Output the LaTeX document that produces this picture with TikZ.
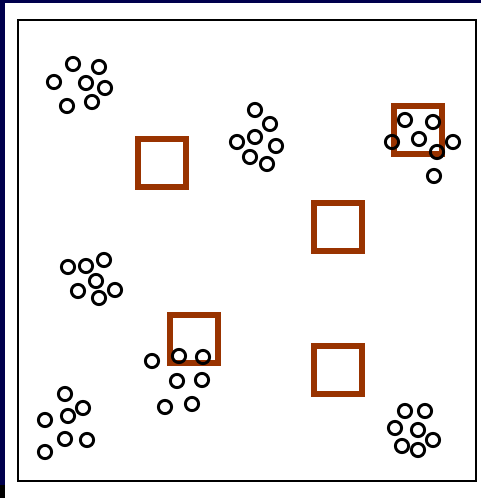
\documentclass[tikz,border=0pt]{standalone}
\usepackage{tikz}
\usepackage{xcolor}
\definecolor{sceneNavy}{HTML}{00004D}
\definecolor{sceneRust}{HTML}{993300}

\tikzset{
  trap/.style={rectangle, draw=sceneRust, line width=5.5pt, minimum size=48pt, inner sep=0pt},
  ring/.style={draw=black, line width=2.9pt},
}

\begin{document}
\begin{tikzpicture}[x=1pt, y=-1pt]
  \useasboundingbox (0,0) rectangle (481,498);
  \fill[sceneNavy] (0,0) rectangle (481,498);
  \fill[white] (5,3) rectangle (481,498);
  \fill[black] (0,485) rectangle (5,498);
  \draw[black, line width=2.8pt] (18,20) rectangle (476,481);
  % traps
  \node[trap] (T1) at (162,163) {};
  \node[trap] (T2) at (338,227) {};
  \node[trap] (T3) at (418,130) {};
  \node[trap] (T4) at (194,339) {};
  \node[trap] (T5) at (338,370) {};
  % particle clusters
  \draw[ring] (73,64) circle[radius=6.6pt] (99,67) circle[radius=6.6pt] (54,82) circle[radius=6.6pt]
    (86,83) circle[radius=6.6pt] (105,88) circle[radius=6.6pt] (67,106) circle[radius=6.6pt] (92,102) circle[radius=6.6pt];
  \draw[ring] (255,110) circle[radius=6.6pt] (270,124) circle[radius=6.6pt] (255,137) circle[radius=6.6pt]
    (237,142) circle[radius=6.6pt] (276,146) circle[radius=6.6pt] (250,157) circle[radius=6.6pt] (267,164) circle[radius=6.6pt];
  \draw[ring] (405,120) circle[radius=6.6pt] (433,122) circle[radius=6.6pt] (419,139) circle[radius=6.6pt]
    (392,142) circle[radius=6.6pt] (453,142) circle[radius=6.6pt] (437,152) circle[radius=6.6pt] (434,176) circle[radius=6.6pt];
  \draw[ring] (68,267) circle[radius=6.6pt] (86,266) circle[radius=6.6pt] (104,260) circle[radius=6.6pt]
    (96,281) circle[radius=6.6pt] (78,291) circle[radius=6.6pt] (115,290) circle[radius=6.6pt] (99,298) circle[radius=6.6pt];
  \draw[ring] (152,361) circle[radius=6.6pt] (179,356) circle[radius=6.6pt] (203,357) circle[radius=6.6pt]
    (177,381) circle[radius=6.6pt] (202,380) circle[radius=6.6pt] (165,407) circle[radius=6.6pt] (192,404) circle[radius=6.6pt];
  \draw[ring] (65,394) circle[radius=6.6pt] (83,408) circle[radius=6.6pt] (45,420) circle[radius=6.6pt]
    (68,416) circle[radius=6.6pt] (65,439) circle[radius=6.6pt] (87,440) circle[radius=6.6pt] (45,452) circle[radius=6.6pt];
  \draw[ring] (405,411) circle[radius=6.6pt] (425,411) circle[radius=6.6pt] (395,428) circle[radius=6.6pt]
    (418,430) circle[radius=6.6pt] (433,440) circle[radius=6.6pt] (402,446) circle[radius=6.6pt] (418,450) circle[radius=6.6pt];
\end{tikzpicture}
\end{document}
